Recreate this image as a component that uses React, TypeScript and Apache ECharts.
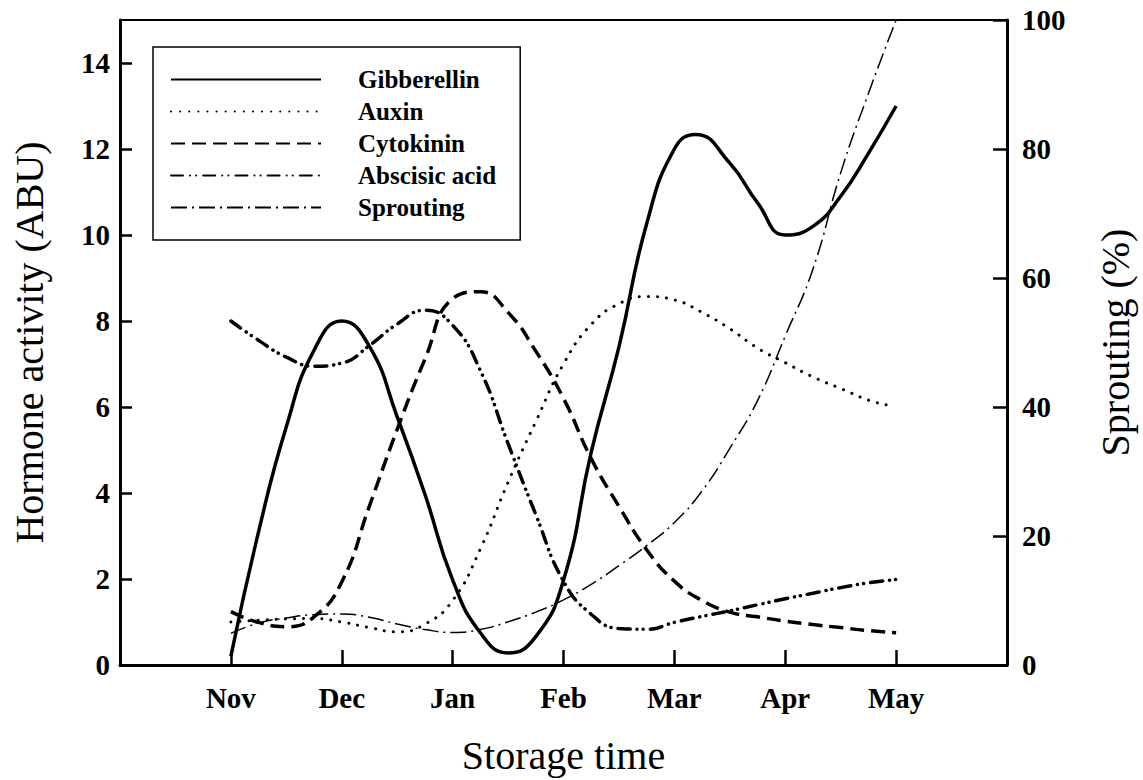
import React, { useEffect, useRef } from 'react';
import * as echarts from 'echarts';

// Month tick labels (x = 0..6)
const months = ['Nov', 'Dec', 'Jan', 'Feb', 'Mar', 'Apr', 'May'];

// Values: [month position, value]
const gibberellin: [number, number][] = [
  [0, 0.2], [0.25, 3.1], [0.5, 5.54], [0.75, 7.32], [1, 8.0], [1.25, 7.41], [1.5, 5.77],
  [1.75, 3.97], [2, 1.98], [2.25, 0.75], [2.5, 0.28], [2.75, 0.66], [3, 1.97], [3.25, 4.95],
  [3.5, 7.4], [3.75, 10.26], [4, 12.0], [4.19, 12.34], [4.5, 11.67], [4.75, 10.75],
  [5, 10.0], [5.25, 10.2], [5.5, 10.9], [5.75, 11.9], [6, 13.0],
];
const auxin: [number, number][] = [
  [0, 1.0], [0.25, 1.04], [0.5, 1.07], [0.75, 1.08], [1, 1.0], [1.25, 0.87], [1.5, 0.77],
  [1.75, 0.95], [2, 1.5], [2.25, 2.7], [2.5, 4.25], [2.75, 5.66], [3, 7.0], [3.25, 7.92],
  [3.5, 8.4], [3.75, 8.57], [4, 8.49], [4.25, 8.2], [4.5, 7.82], [4.75, 7.37], [5, 7.03],
  [5.25, 6.7], [5.5, 6.43], [5.75, 6.16], [5.91, 6.05],
];
const cytokinin: [number, number][] = [
  [0, 1.24], [0.25, 0.99], [0.5, 0.89], [0.75, 1.12], [1, 1.93], [1.25, 3.7], [1.5, 5.48],
  [1.75, 7.11], [2, 8.52], [2.25, 8.68], [2.5, 8.2], [2.75, 7.3], [3, 6.2], [3.25, 4.8],
  [3.5, 3.69], [3.75, 2.68], [4, 1.95], [4.25, 1.5], [4.5, 1.23], [4.75, 1.12], [5, 1.02],
  [5.25, 0.94], [5.5, 0.87], [5.75, 0.8], [6, 0.75],
];
const abscisic: [number, number][] = [
  [0, 8.0], [0.25, 7.55], [0.5, 7.16], [0.75, 6.95], [1, 7.02], [1.25, 7.43], [1.5, 7.93],
  [1.75, 8.25], [2, 7.9], [2.25, 6.85], [2.5, 5.15], [2.75, 3.5], [3, 1.95], [3.25, 1.18],
  [3.5, 0.85], [3.75, 0.83], [4, 0.99], [4.25, 1.13], [4.5, 1.26], [4.75, 1.4], [5, 1.54],
  [5.25, 1.67], [5.5, 1.8], [5.75, 1.91], [6, 1.99],
];
const sprouting: [number, number][] = [
  [0, 4.9], [0.25, 6.5], [0.5, 7.3], [0.75, 7.8], [1, 7.9], [1.25, 7.4], [1.5, 6.35],
  [1.75, 5.5], [2, 5.05], [2.25, 5.5], [2.5, 6.7], [2.75, 8.2], [3, 10.1], [3.25, 12.5],
  [3.5, 15.4], [3.75, 18.5], [4, 22.1], [4.25, 27.0], [4.5, 33.6], [4.75, 41.0], [5, 51.0],
  [5.25, 61.4], [5.5, 76.3], [5.75, 88.6], [6, 100],
];

const serif = '"Liberation Serif", "Times New Roman", Times, serif';

export default function App() {
  const ref = useRef<HTMLDivElement>(null);

  useEffect(() => {
    const chart = echarts.init(ref.current!, null, { renderer: 'svg' });
    const tickLabel = { fontFamily: serif, fontWeight: 'bold', fontSize: 29, color: '#000' };
    const axisName = { fontFamily: serif, fontSize: 40, color: '#000', fontWeight: 'normal' };

    const mkSeries = (name: string, data: [number, number][], lineStyle: any, yAxisIndex = 0) => ({
      name, type: 'line', data, yAxisIndex, smooth: 0.5,
      symbol: 'none', showSymbol: false,
      itemStyle: { color: '#000' },
      lineStyle: { color: '#000', ...lineStyle },
    });

    chart.setOption({
      animation: false,
      backgroundColor: '#fff',
      grid: {
        left: 120, right: 128, top: 20, bottom: 115,
        show: true, borderColor: '#000', borderWidth: 2, backgroundColor: 'transparent',
      },
      legend: {
        orient: 'vertical',
        left: 153,
        top: 47,
        data: ['Gibberellin', 'Auxin', 'Cytokinin', 'Abscisic acid', 'Sprouting'],
        itemWidth: 150,
        itemHeight: 14,
        itemGap: 7,
        padding: [20, 24, 20, 17],
        borderColor: '#000',
        borderWidth: 1.5,
        backgroundColor: '#fff',
        itemStyle: { opacity: 0 },
        textStyle: {
          fontFamily: serif, fontWeight: 'bold', fontSize: 25, color: '#000',
          lineHeight: 25, padding: [0, 0, 0, 32],
        },
      },
      xAxis: {
        type: 'value',
        min: -1,
        max: 7,
        interval: 1,
        name: 'Storage time',
        nameLocation: 'middle',
        nameGap: 70,
        nameTextStyle: axisName,
        axisLine: { show: true, onZero: false, lineStyle: { color: '#000', width: 3 } },
        axisTick: { show: true, inside: true, length: 15, lineStyle: { color: '#000', width: 2.5 } },
        axisLabel: {
          ...tickLabel,
          margin: 18,
          formatter: (v: number) => months[v] ?? '',
        },
        splitLine: { show: false },
      },
      yAxis: [
        {
          type: 'value',
          min: 0,
          max: 15,
          interval: 2,
          position: 'left',
          name: 'Hormone activity (ABU)',
          nameLocation: 'middle',
          nameRotate: 90,
          nameGap: 71,
          nameTextStyle: axisName,
          axisLine: { show: true, onZero: false, lineStyle: { color: '#000', width: 3 } },
          axisTick: { show: true, inside: true, length: 12, lineStyle: { color: '#000', width: 2.5 } },
          axisLabel: { ...tickLabel, margin: 10, showMaxLabel: false },
          splitLine: { show: false },
        },
        {
          type: 'value',
          min: 0,
          max: 100,
          interval: 20,
          position: 'right',
          name: 'Sprouting (%)',
          nameLocation: 'middle',
          nameRotate: 90,
          nameGap: 88,
          nameTextStyle: axisName,
          axisLine: { show: true, onZero: false, lineStyle: { color: '#000', width: 3 } },
          axisTick: { show: true, inside: true, length: 14, lineStyle: { color: '#000', width: 2.5 } },
          axisLabel: { ...tickLabel, margin: 15 },
          splitLine: { show: false },
        },
      ],
      series: [
        mkSeries('Gibberellin', gibberellin, { width: 3.5, type: 'solid' }),
        mkSeries('Auxin', auxin, { width: 3, type: [0.1, 9], cap: 'round' }),
        mkSeries('Cytokinin', cytokinin, { width: 3.5, type: [14, 7], cap: 'butt' }),
        mkSeries('Abscisic acid', abscisic, { width: 3.5, type: [12, 7, 0.1, 6, 0.1, 7], cap: 'round' }),
        mkSeries('Sprouting', sprouting, { width: 1.5, type: [16, 5, 2, 5], cap: 'butt' }, 1),
      ],
    });

    return () => chart.dispose();
  }, []);

  return (
    <div
      ref={ref}
      style={{ position: 'absolute', left: 0, top: 0, width: 1143, height: 780, background: '#fff' }}
    />
  );
}
